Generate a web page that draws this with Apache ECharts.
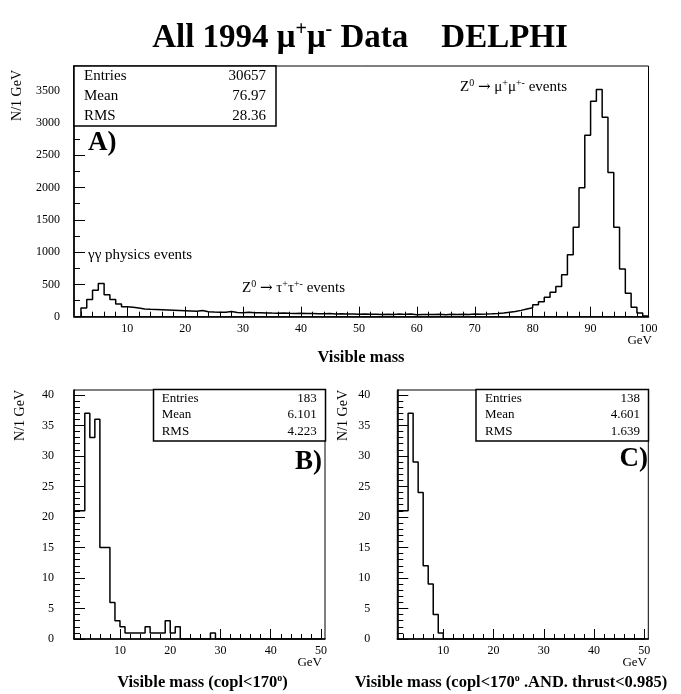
<!DOCTYPE html>
<html>
<head>
<meta charset="utf-8">
<script src="https://cdn.jsdelivr.net/npm/echarts@6/dist/echarts.min.js"></script>
<style>
html,body{margin:0;padding:0;background:#fff;}
#c{width:681px;height:694px;}
</style>
</head>
<body>
<div id="c"></div>
<script>
// ---------------- data ----------------
// Panel A: visible mass, 1 GeV bins starting at 1 GeV
const binStartA = 1;
const countsA = [0,135,265,410,515,340,265,195,155,145,
  135,120,115,112,108,104,100,96,92,88,
  84,95,78,72,68,70,80,65,62,70,
  60,62,58,56,55,58,52,50,54,48,
  50,46,44,48,42,44,40,42,38,40,
  36,38,35,37,34,42,36,40,32,35,
  34,33,36,32,38,34,36,33,40,38,
  40,44,50,58,68,80,98,120,140,185,
  233,302,380,467,648,960,1384,1997,2810,3334,
  3515,3085,2230,1384,737,364,146,58,12];
// Panel B: copl<170, 1 GeV bins starting at 1 GeV
const binStartB = 1;
const countsB = [21,21,37,33,36,15,15,6,3,2,
  1,1,1,1,2,1,1,1,3,1,
  2,0,0,0,0,0,0,1,0,0,
  0,0,0,0,0,0,0,0,0,0,
  0,0,0,0,0,0,0,0,0];
// Panel C: copl<170 .AND. thrust<0.985
const binStartC = 1;
const countsC = [21,21,37,29,24,12,9,4,1,0,
  0,0,0,0,0,0,0,0,0,0,
  0,0,0,0,0,0,0,0,0,0,
  0,0,0,0,0,0,0,0,0,0,
  0,0,0,0,0,0,0,0,0];

const xMajorA = [10,20,30,40,50,60,70,80,90,100];
const xMinorA = [2,4,6,8,12,14,16,18,22,24,26,28,32,34,36,38,42,44,46,48,52,54,56,58,62,64,66,68,72,74,76,78,82,84,86,88,92,94,96,98];
const yMajorA = [0,500,1000,1500,2000,2500,3000,3500];
const yMinorA = [250,750,1250,1750,2250,2750,3250,3750];
const xMajorBC = [10,20,30,40,50];
const xMinorBC = [2,4,6,8,12,14,16,18,22,24,26,28,32,34,36,38,42,44,46,48];
const yMajorBC = [0,5,10,15,20,25,30,35,40];
const yMinorBC = [1,2,3,4,6,7,8,9,11,12,13,14,16,17,18,19,21,22,23,24,26,27,28,29,31,32,33,34,36,37,38,39];

const statsA = [['Entries','30657'],['Mean','76.97'],['RMS','28.36']];
const statsB = [['Entries','183'],['Mean','6.101'],['RMS','4.223']];
const statsC = [['Entries','138'],['Mean','4.601'],['RMS','1.639']];

// ---------------- helpers ----------------
const FF = 'Liberation Serif';
function histPoints(start, counts){
  const pts = counts.map((c,i)=>[start+i, c]);
  pts.push([start+counts.length, counts[counts.length-1]]);
  return pts;
}
const grids = [
  {left:74, top:66, width:574.5, height:250.7},
  {left:74, top:390, width:251, height:249},
  {left:397.3, top:390, width:251, height:249}
];
const xr = [[0.8,100],[0.85,50.8],[0.85,50.8]];
const yr = [[0,3880],[0,40.8],[0,40.8]];
const xMaj = [xMajorA, xMajorBC, xMajorBC];
const xMin = [xMinorA, xMinorBC, xMinorBC];
const yMaj = [yMajorA, yMajorBC, yMajorBC];
const yMin = [yMinorA, yMinorBC, yMinorBC];
const yLabelMargin = [14, 20, 27];
const plain = v => String(v);

const xAxis = [], yAxis = [];
for (let g=0; g<3; g++){
  xAxis.push({type:'value', gridIndex:g, position:'bottom', min:xr[g][0], max:xr[g][1],
    axisLine:{show:true, onZero:false, lineStyle:{color:'#000', width:1.6}},
    axisTick:{show:true, inside:true, length:10, customValues:xMaj[g], lineStyle:{color:'#000', width:1}},
    axisLabel:{show:true, customValues:xMaj[g], formatter:plain, margin:6, color:'#000', fontSize:12, fontFamily:FF},
    splitLine:{show:false}});
  xAxis.push({type:'value', gridIndex:g, position:'bottom', min:xr[g][0], max:xr[g][1],
    axisLine:{show:false, onZero:false},
    axisTick:{show:true, inside:true, length:5, customValues:xMin[g], lineStyle:{color:'#000', width:1}},
    axisLabel:{show:false}, splitLine:{show:false}});
  yAxis.push({type:'value', gridIndex:g, position:'left', min:yr[g][0], max:yr[g][1],
    axisLine:{show:true, onZero:false, lineStyle:{color:'#000', width:1.6}},
    axisTick:{show:true, inside:true, length:11, customValues:yMaj[g], lineStyle:{color:'#000', width:1}},
    axisLabel:{show:true, customValues:yMaj[g], formatter:plain, margin:yLabelMargin[g], color:'#000', fontSize:12, fontFamily:FF},
    splitLine:{show:false}});
  yAxis.push({type:'value', gridIndex:g, position:'left', min:yr[g][0], max:yr[g][1],
    axisLine:{show:false, onZero:false},
    axisTick:{show:true, inside:true, length:6, customValues:yMin[g], lineStyle:{color:'#000', width:1}},
    axisLabel:{show:false}, splitLine:{show:false}});
}

const series = [
  {start:binStartA, counts:countsA}, {start:binStartB, counts:countsB}, {start:binStartC, counts:countsC}
].map((h,g)=>({
  type:'line', step:'end', xAxisIndex:2*g, yAxisIndex:2*g, data:histPoints(h.start, h.counts),
  symbol:'none', clip:true, animation:false, silent:true,
  lineStyle:{color:'#000', width:1.5}
}));

// ---------------- text/graphics ----------------
const supStyle = (fs, bold) => ({fontSize:fs, fontFamily:FF, fontWeight: bold?'bold':'normal', verticalAlign:'top', lineHeight:fs});
const arrowStyle = {fontSize:15, fontFamily:'DejaVu Serif', fontWeight:'normal', lineHeight:18};
function txt(x, y, text, fs, opts){
  opts = opts || {};
  const bold = !!opts.bold;
  return {type:'text', x:x, y:y, z:30, rotation: opts.rot || 0,
    style:{text:text, fontSize:fs, fontFamily:FF, fontWeight: bold?'bold':'normal', fill:'#000',
      textAlign: opts.align || 'left', textVerticalAlign: opts.valign || 'middle',
      lineHeight: opts.lh, rich: opts.rich}};
}
const graphic = [];
function statBox(x, y, w, h, rows, fs, lx, rx, rowY){
  graphic.push({type:'rect', z:25, shape:{x:x, y:y, width:w, height:h},
    style:{fill:'#fff', stroke:'#000', lineWidth:1.5}});
  rows.forEach((r,i)=>{
    graphic.push(txt(lx, rowY[i], r[0], fs));
    graphic.push(txt(rx, rowY[i], r[1], fs, {align:'right'}));
  });
}
statBox(74, 66, 202, 60, statsA, 15, 84, 266, [76, 96, 116.5]);
statBox(153.5, 389.5, 172, 51.5, statsB, 13, 161.7, 316.7, [398.5, 415, 431.5]);
statBox(476, 389.5, 172.5, 51.5, statsC, 13, 485, 640, [398.5, 415, 431.5]);

// panel letters
graphic.push(txt(88, 143.5, 'A)', 27, {bold:true}));
graphic.push(txt(322, 462.5, 'B)', 27, {bold:true, align:'right'}));
graphic.push(txt(648, 459.5, 'C)', 27, {bold:true, align:'right'}));

// main title
graphic.push(txt(360, 38, 'All 1994 μ{sp|+}μ{sp|-} Data    DELPHI', 33,
  {bold:true, align:'center', lh:36, rich:{sp:supStyle(20,true)}}));

// annotations
graphic.push(txt(88, 255, 'γγ physics events', 15));
graphic.push(txt(242, 288, 'Z{s|0} {ar|→} τ{s|+}τ{s|+-} events', 15, {lh:18, rich:{s:supStyle(10,false), ar:arrowStyle}}));
graphic.push(txt(460, 87.5, 'Z{s|0} {ar|→} μ{s|+}μ{s|+-} events', 15, {lh:18, rich:{s:supStyle(10,false), ar:arrowStyle}}));

// axis titles
graphic.push(txt(361, 358, 'Visible mass', 16.5, {bold:true, align:'center'}));
graphic.push(txt(202.5, 683, 'Visible mass (copl<170{d|o})', 16.5, {bold:true, align:'center', lh:20, rich:{d:supStyle(10,true)}}));
graphic.push(txt(511, 683, 'Visible mass (copl<170{d|o} .AND. thrust<0.985)', 16.5, {bold:true, align:'center', lh:20, rich:{d:supStyle(10,true)}}));
graphic.push(txt(652, 341, 'GeV', 13, {align:'right'}));
graphic.push(txt(322, 663, 'GeV', 13, {align:'right'}));
graphic.push(txt(647, 663, 'GeV', 13, {align:'right'}));
graphic.push(txt(17.5, 70, 'N/1 GeV', 14, {align:'right', rot:Math.PI/2}));
graphic.push(txt(20, 390, 'N/1 GeV', 14, {align:'right', rot:Math.PI/2}));
graphic.push(txt(343, 390, 'N/1 GeV', 14, {align:'right', rot:Math.PI/2}));

const chart = echarts.init(document.getElementById('c'), null, {renderer:'canvas'});
chart.setOption({
  animation:false,
  backgroundColor:'#fff',
  grid: grids.map(g=>Object.assign({show:true, borderColor:'#000', borderWidth:1, backgroundColor:'transparent', containLabel:false}, g)),
  xAxis: xAxis,
  yAxis: yAxis,
  series: series,
  graphic: graphic
});
</script>
</body>
</html>
